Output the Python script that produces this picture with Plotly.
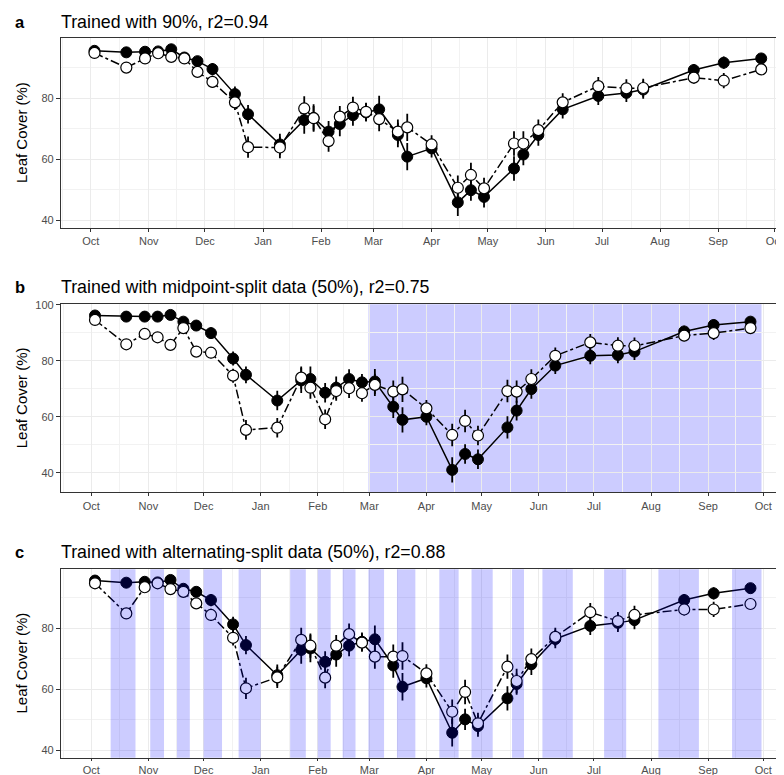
import plotly.graph_objects as go
import pandas as pd

# ---------------- data ----------------
dates = ["2018-10-03", "2018-10-20", "2018-10-30", "2018-11-06", "2018-11-13", "2018-11-20",
         "2018-11-27", "2018-12-05", "2018-12-17", "2018-12-24", "2019-01-10", "2019-01-23",
         "2019-01-28", "2019-02-05", "2019-02-11", "2019-02-18", "2019-02-25", "2019-03-04",
         "2019-03-14", "2019-03-19", "2019-04-01", "2019-04-15", "2019-04-22", "2019-04-29",
         "2019-05-15", "2019-05-20", "2019-05-28", "2019-06-10", "2019-06-29", "2019-07-14",
         "2019-07-23", "2019-08-19", "2019-09-04", "2019-09-24"]

obs_a = [95.5, 95.0, 95.2, 95.3, 96.0, 93.3, 92.1, 89.5, 81.3, 74.7, 64.8, 72.8,
         73.5, 69.0, 71.5, 74.4, 75.3, 76.3, 67.9, 60.8, 63.5, 45.8, 49.8, 47.6,
         56.9, 61.5, 67.9, 76.3, 80.7, 81.7, 82.8, 89.2, 91.6, 93.0]
pred_a = [94.8, 90.0, 93.0, 94.7, 93.5, 93.0, 88.6, 85.3, 78.6, 63.9, 63.8, 76.6,
          73.4, 65.9, 73.9, 76.9, 75.5, 73.1, 69.0, 70.4, 64.8, 50.6, 54.8, 50.4,
          65.1, 65.1, 69.5, 78.6, 83.9, 83.2, 83.3, 86.7, 85.7, 89.4]

obs_b = [96.2, 95.8, 95.8, 95.8, 96.4, 94.0, 92.6, 89.9, 80.8, 75.0, 65.8, 73.0,
         73.5, 68.6, 70.4, 73.5, 72.3, 72.6, 63.6, 58.9, 60.0, 41.0, 46.7, 44.8,
         56.2, 62.2, 69.9, 78.3, 81.8, 82.1, 83.3, 90.5, 92.8, 94.0]
pred_b = [94.6, 85.9, 89.6, 88.4, 85.7, 91.7, 83.3, 82.9, 74.7, 55.3, 56.1, 74.0,
          70.4, 59.1, 69.2, 70.2, 68.4, 71.4, 69.0, 69.8, 63.0, 53.5, 58.5, 53.3,
          69.2, 69.0, 73.5, 81.8, 86.6, 85.4, 85.3, 89.0, 89.9, 91.7]

obs_c = [95.7, 95.0, 95.3, 95.1, 95.9, 93.0, 92.0, 89.3, 81.3, 74.5, 64.6, 72.9,
         73.4, 69.0, 71.4, 74.3, 75.6, 76.4, 67.8, 60.8, 63.6, 45.7, 50.1, 47.9,
         57.0, 61.7, 68.2, 76.5, 80.8, 81.8, 82.7, 89.3, 91.5, 93.2]
pred_c = [94.8, 84.9, 93.5, 94.8, 92.9, 92.0, 88.2, 84.4, 76.9, 60.3, 63.9, 76.2,
          74.3, 63.8, 74.3, 78.1, 75.3, 70.7, 70.7, 70.9, 65.2, 52.6, 59.1, 48.8,
          67.4, 62.7, 69.9, 77.2, 85.3, 82.4, 84.4, 86.2, 86.2, 88.0]

err_obs = [0.8, 0.8, 0.8, 0.8, 0.8, 1.0, 1.5, 2.0, 2.5, 3.0, 3.5, 4.5,
           4.5, 3.5, 4.0, 3.5, 3.0, 4.5, 4.0, 4.5, 3.0, 4.5, 3.5, 3.5,
           4.0, 3.5, 3.5, 3.0, 3.0, 3.0, 3.0, 2.0, 2.0, 1.0]
err_pred = [0.8, 1.0, 1.0, 0.8, 1.0, 1.0, 1.5, 2.0, 2.5, 3.5, 3.5, 4.0,
            4.0, 3.5, 3.5, 3.5, 3.0, 4.0, 4.0, 4.5, 3.0, 4.0, 4.0, 3.5,
            4.0, 4.0, 3.5, 3.0, 3.0, 3.0, 3.0, 2.0, 2.5, 1.0]

# test-data shading
shade_b_start = ["2019-02-28 12:00"]
shade_b_end = ["2019-09-30"]
shade_c_start = ["2018-10-11 12:00", "2018-11-02", "2018-11-16 12:00", "2018-12-01",
                 "2018-12-20", "2019-01-17", "2019-02-01", "2019-02-14 12:00",
                 "2019-02-28 12:00", "2019-03-16", "2019-04-08", "2019-04-25 12:00",
                 "2019-05-17 12:00", "2019-06-03", "2019-07-06 12:00", "2019-08-05",
                 "2019-09-14"]
shade_c_end = ["2018-10-25", "2018-11-09 12:00", "2018-11-23 12:00", "2018-12-11",
               "2019-01-01", "2019-01-25 12:00", "2019-02-08", "2019-02-21 12:00",
               "2019-03-09", "2019-03-26", "2019-04-18 12:00", "2019-05-07",
               "2019-05-24", "2019-06-19 12:00", "2019-07-18 12:00", "2019-08-27",
               "2019-09-30"]

titles = ["Trained with 90%, r2=0.94",
          "Trained with midpoint-split data (50%), r2=0.75",
          "Trained with alternating-split data (50%), r2=0.88"]
letters = ["a", "b", "c"]
y_ticks = [[40, 60, 80], [40, 60, 80, 100], [40, 60, 80]]

# ---------------- layout helpers ----------------
OFF = 8                      # page body margin offset
W, H = 784 - OFF, 775 - OFF
FONT = "Liberation Sans, Arial, Helvetica, sans-serif"


def py(px):
    return 1 - (px - OFF) / H


def pxx(px):
    return (px - OFF) / W


ytop_px = [38.3, 304.3, 569.3]
ybot_px = [227.7, 492.3, 757.7]
ydom = [[py(b), py(t)] for t, b in zip(ytop_px, ybot_px)]
yranges = [[37.5, 99.6], [33.0, 100.2], [37.5, 99.4]]
xranges = [["2018-09-15 03:00", "2019-10-06 04:00"],
           ["2018-09-14 13:00", "2019-10-12 05:00"],
           ["2018-09-14 13:00", "2019-10-12 05:00"]]
title_y_px = [21.7, 286.7, 551.7]
xticklen = [3, 3, 2]

months = pd.date_range("2018-08-01", "2019-12-01", freq="MS")
mid_months = [(months[i] + (months[i + 1] - months[i]) / 2).strftime("%Y-%m-%d %H:%M")
              for i in range(len(months) - 1)]

fig = go.Figure()

series = [(obs_a, pred_a), (obs_b, pred_b), (obs_c, pred_c)]
for i, (obs, pred) in enumerate(series):
    xa = "x" if i == 0 else f"x{i + 1}"
    ya = "y" if i == 0 else f"y{i + 1}"
    fig.add_trace(go.Scatter(
        x=dates, y=obs, xaxis=xa, yaxis=ya, mode="lines+markers",
        line=dict(color="black", width=1.5),
        marker=dict(size=11, color="black", line=dict(color="black", width=1)),
        error_y=dict(type="data", array=err_obs, color="black", thickness=1.8, width=0),
        showlegend=False, cliponaxis=False))
    fig.add_trace(go.Scatter(
        x=dates, y=pred, xaxis=xa, yaxis=ya, mode="lines+markers",
        line=dict(color="black", width=1.5, dash="dashdot"),
        marker=dict(size=11, color="white", line=dict(color="black", width=1.2)),
        error_y=dict(type="data", array=err_pred, color="black", thickness=1.8, width=0),
        showlegend=False, cliponaxis=False))

layout = dict(width=W, height=H, margin=dict(l=0, r=0, t=0, b=0),
              paper_bgcolor="white", plot_bgcolor="white",
              font=dict(family=FONT, color="black"), showlegend=False)

for i in range(3):
    xk = "xaxis" if i == 0 else f"xaxis{i + 1}"
    yk = "yaxis" if i == 0 else f"yaxis{i + 1}"
    ya = "y" if i == 0 else f"y{i + 1}"
    xa = "x" if i == 0 else f"x{i + 1}"
    layout[xk] = dict(
        domain=[pxx(61), 1], anchor=ya, type="date", range=xranges[i],
        tick0="2018-10-01", dtick="M1", tickformat="%b",
        ticks="outside", ticklen=xticklen[i], tickcolor="#333333", tickwidth=1,
        tickfont=dict(size=11, color="#4D4D4D", family=FONT),
        showgrid=True, gridcolor="#EBEBEB", gridwidth=1,
        minor=dict(tickmode="array", tickvals=mid_months, showgrid=True,
                   gridcolor="#F2F2F2", gridwidth=0.7, ticks=""),
        showline=True, linecolor="#333333", linewidth=1.2, mirror=True,
        zeroline=False, automargin=False)
    layout[yk] = dict(
        domain=ydom[i], anchor=xa, range=yranges[i],
        tickmode="array", tickvals=y_ticks[i],
        ticks="outside", ticklen=4, tickcolor="#333333", tickwidth=1,
        tickfont=dict(size=11, color="#4D4D4D", family=FONT),
        showgrid=True, gridcolor="#EBEBEB", gridwidth=1,
        minor=dict(tickmode="array", tickvals=[30, 50, 70, 90], showgrid=True,
                   gridcolor="#F2F2F2", gridwidth=0.7, ticks=""),
        showline=True, linecolor="#333333", linewidth=1.2, mirror=True,
        zeroline=False, automargin=False)

shapes = []
for s, e in zip(shade_b_start, shade_b_end):
    shapes.append(dict(type="rect", xref="x2", yref="paper", x0=s, x1=e,
                       y0=ydom[1][0], y1=ydom[1][1],
                       fillcolor="rgba(0,0,255,0.2)", line=dict(width=0), layer="below"))
for s, e in zip(shade_c_start, shade_c_end):
    shapes.append(dict(type="rect", xref="x3", yref="paper", x0=s, x1=e,
                       y0=ydom[2][0], y1=ydom[2][1],
                       fillcolor="rgba(0,0,255,0.2)", line=dict(width=0), layer="above"))
layout["shapes"] = shapes

annotations = []
for i in range(3):
    annotations.append(dict(text=f"<b>{letters[i]}</b>", xref="paper", yref="paper",
                            x=pxx(13), y=py(title_y_px[i]), xanchor="left", yanchor="middle",
                            showarrow=False, font=dict(size=16.5, color="black", family=FONT)))
    annotations.append(dict(text=titles[i], xref="paper", yref="paper",
                            x=pxx(59), y=py(title_y_px[i]), xanchor="left", yanchor="middle",
                            showarrow=False, font=dict(size=17.8, color="black", family=FONT)))
    yc = (ytop_px[i] + ybot_px[i]) / 2
    annotations.append(dict(text="Leaf Cover (%)", xref="paper", yref="paper",
                            x=pxx(21), y=py(yc), xanchor="center", yanchor="middle",
                            textangle=-90, showarrow=False,
                            font=dict(size=15, color="black", family=FONT)))
layout["annotations"] = annotations

fig.update_layout(**layout)
fig.write_html("out.html")
